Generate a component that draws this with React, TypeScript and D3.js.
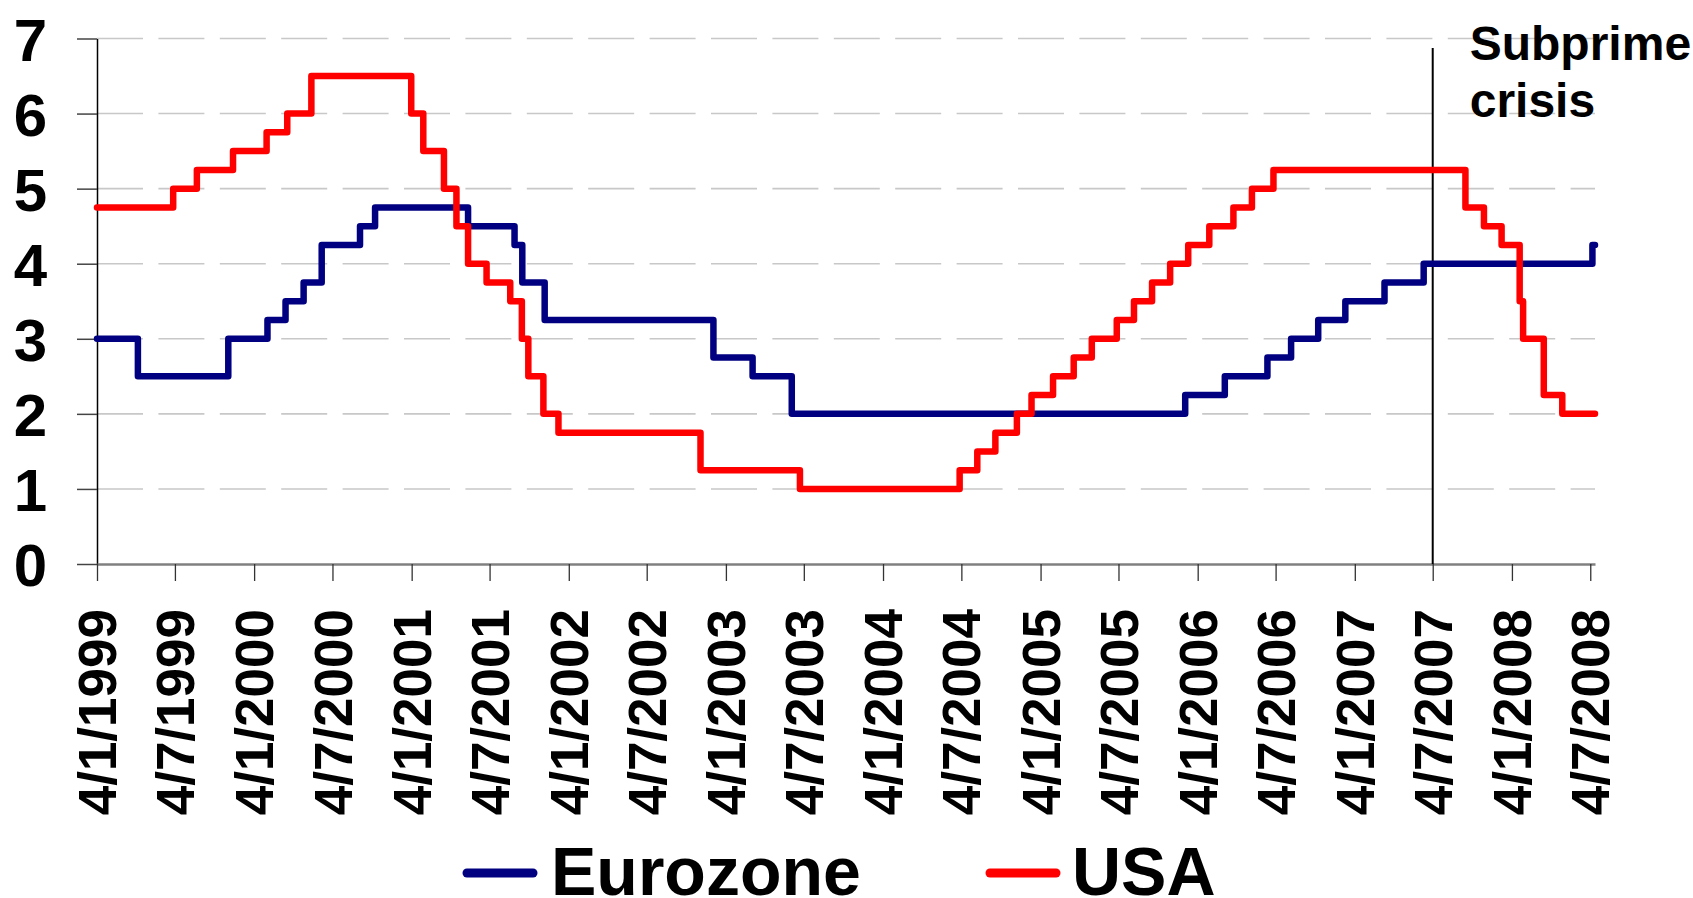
import React, { useEffect, useRef } from "react";
import * as d3 from "d3";

// ECB main refinancing rate (change dates + level)
const euroDates = [
  "1999-01-04", "1999-04-09", "1999-11-05", "2000-02-04", "2000-03-17",
  "2000-04-28", "2000-06-09", "2000-09-06", "2000-10-11", "2001-05-15",
  "2001-08-31", "2001-09-18", "2001-11-09", "2002-12-06", "2003-03-07",
  "2003-06-06", "2005-12-06", "2006-03-08", "2006-06-15", "2006-08-09",
  "2006-10-11", "2006-12-13", "2007-03-14", "2007-06-13", "2008-07-09",
];
const euroRates = [
  3.0, 2.5, 3.0, 3.25, 3.5,
  3.75, 4.25, 4.5, 4.75, 4.5,
  4.25, 3.75, 3.25, 2.75, 2.5,
  2.0, 2.25, 2.5, 2.75, 3.0,
  3.25, 3.5, 3.75, 4.0, 4.25,
];

// Fed funds target rate
const usaDates = [
  "1999-01-04", "1999-06-30", "1999-08-24", "1999-11-16", "2000-02-02",
  "2000-03-21", "2000-05-16", "2001-01-03", "2001-01-31", "2001-03-20",
  "2001-04-18", "2001-05-15", "2001-06-27", "2001-08-21", "2001-09-17",
  "2001-10-02", "2001-11-06", "2001-12-11", "2002-11-06", "2003-06-25",
  "2004-06-30", "2004-08-10", "2004-09-21", "2004-11-10", "2004-12-14",
  "2005-02-02", "2005-03-22", "2005-05-03", "2005-06-30", "2005-08-09",
  "2005-09-20", "2005-11-01", "2005-12-13", "2006-01-31", "2006-03-28",
  "2006-05-10", "2006-06-29", "2007-09-18", "2007-10-31", "2007-12-11",
  "2008-01-22", "2008-01-30", "2008-03-18", "2008-04-30",
];
const usaRates = [
  4.75, 5.0, 5.25, 5.5, 5.75,
  6.0, 6.5, 6.0, 5.5, 5.0,
  4.5, 4.0, 3.75, 3.5, 3.0,
  2.5, 2.0, 1.75, 1.25, 1.0,
  1.25, 1.5, 1.75, 2.0, 2.25,
  2.5, 2.75, 3.0, 3.25, 3.5,
  3.75, 4.0, 4.25, 4.5, 4.75,
  5.0, 5.25, 4.75, 4.5, 4.25,
  3.5, 3.0, 2.25, 2.0,
];

const startDate = "1999-01-04";
const endDate = "2008-07-15";
const crisisDate = "2007-07-04";

const tickDates = [
  "1999-01-04", "1999-07-04", "2000-01-04", "2000-07-04", "2001-01-04",
  "2001-07-04", "2002-01-04", "2002-07-04", "2003-01-04", "2003-07-04",
  "2004-01-04", "2004-07-04", "2005-01-04", "2005-07-04", "2006-01-04",
  "2006-07-04", "2007-01-04", "2007-07-04", "2008-01-04", "2008-07-04",
];
const yTicks = [0, 1, 2, 3, 4, 5, 6, 7];

const seriesNames = ["Eurozone", "USA"];
const seriesColors = ["#000080", "#ff0000"];

const FONT = "'Liberation Sans', Arial, sans-serif";

export default function App() {
  const svgRef = useRef<SVGSVGElement>(null);

  useEffect(() => {
    const svg = d3.select(svgRef.current);
    svg.selectAll("*").remove();

    const parse = d3.timeParse("%Y-%m-%d");
    const fmt = d3.timeFormat("%-d/%-m/%Y");

    const x = d3
      .scaleTime()
      .domain([parse(startDate)!, parse(endDate)!])
      .range([97, 1595]);
    const y = d3.scaleLinear().domain([0, 7]).range([564, 38.5]);

    const [x0, x1] = x.range();

    // grid dashes
    svg
      .append("g")
      .selectAll("line")
      .data(yTicks.filter((t) => t > 0))
      .enter()
      .append("line")
      .attr("x1", x0)
      .attr("x2", x1)
      .attr("y1", (d) => y(d))
      .attr("y2", (d) => y(d))
      .attr("stroke", "#c8c8c8")
      .attr("stroke-width", 1.6)
      .attr("stroke-dasharray", "46 15.4");

    // y axis
    const yAxis = svg
      .append("g")
      .attr("transform", `translate(${x0},0)`)
      .call(
        d3
          .axisLeft(y)
          .tickValues(yTicks)
          .tickFormat(d3.format("d"))
          .tickSize(20)
          .tickSizeOuter(0)
          .tickPadding(30)
      );
    yAxis.select(".domain").attr("stroke", "#000").attr("stroke-width", 1.5);
    yAxis.selectAll(".tick line").attr("stroke", "#444").attr("stroke-width", 1.5);
    yAxis
      .selectAll(".tick text")
      .attr("font-family", FONT)
      .attr("font-weight", "bold")
      .attr("font-size", "60px")
      .attr("fill", "#000")
      .attr("dy", "0.36em");

    // x axis
    const xAxis = svg
      .append("g")
      .attr("transform", `translate(0,${y(0)})`)
      .call(
        d3
          .axisBottom(x)
          .tickValues(tickDates.map((d) => parse(d)!))
          .tickFormat((d) => fmt(d as Date))
          .tickSize(17)
          .tickSizeOuter(0)
      );
    xAxis.select(".domain").attr("stroke", "#808080").attr("stroke-width", 2.5);
    xAxis.selectAll(".tick line").attr("stroke", "#333").attr("stroke-width", 1.3);
    xAxis
      .selectAll(".tick text")
      .attr("font-family", FONT)
      .attr("font-weight", "bold")
      .attr("font-size", "53px")
      .attr("fill", "#000")
      .attr("text-anchor", "end")
      .attr("transform", "rotate(-90)")
      .attr("x", -45)
      .attr("y", 0)
      .attr("dy", "0.35em");

    // subprime marker
    const cx = x(parse(crisisDate)!);
    svg
      .append("line")
      .attr("x1", cx)
      .attr("x2", cx)
      .attr("y1", 48)
      .attr("y2", y(0))
      .attr("stroke", "#000")
      .attr("stroke-width", 2);

    const note = svg
      .append("text")
      .attr("font-family", FONT)
      .attr("font-weight", "bold")
      .attr("font-size", "48px")
      .attr("fill", "#000");
    note.append("tspan").attr("x", cx + 37).attr("y", 60).text("Subprime");
    note.append("tspan").attr("x", cx + 37).attr("y", 117).text("crisis");

    // series
    const build = (dates: string[], rates: number[]) => {
      const pts = dates.map((d, i) => ({ date: parse(d)!, value: rates[i] }));
      pts.push({ date: parse(endDate)!, value: rates[rates.length - 1] });
      return pts;
    };
    const series = [build(euroDates, euroRates), build(usaDates, usaRates)];

    const line = d3
      .line<{ date: Date; value: number }>()
      .x((d) => x(d.date))
      .y((d) => y(d.value))
      .curve(d3.curveStepAfter);

    series.forEach((pts, i) => {
      svg
        .append("path")
        .datum(pts)
        .attr("fill", "none")
        .attr("stroke", seriesColors[i])
        .attr("stroke-width", 6.5)
        .attr("stroke-linejoin", "round")
        .attr("stroke-linecap", "round")
        .attr("d", line);
    });

    // legend
    const legendX = [467, 990];
    const legend = svg
      .append("g")
      .selectAll("g")
      .data(seriesNames)
      .enter()
      .append("g")
      .attr("transform", (_, i) => `translate(${legendX[i]},0)`);
    legend
      .append("line")
      .attr("x1", 0)
      .attr("x2", 66)
      .attr("y1", 873)
      .attr("y2", 873)
      .attr("stroke", (_, i) => seriesColors[i])
      .attr("stroke-width", 9)
      .attr("stroke-linecap", "round");
    legend
      .append("text")
      .attr("x", (_, i) => (i === 0 ? 84 : 82))
      .attr("y", 895)
      .attr("font-family", FONT)
      .attr("font-weight", "bold")
      .attr("font-size", "68px")
      .attr("fill", "#000")
      .text((d) => d);
  }, []);

  return (
    <>
      <style>{`body{margin:0;overflow:hidden;background:#fff}`}</style>
      <svg
        ref={svgRef}
        width={1693}
        height={898}
        style={{ display: "block", position: "absolute", left: 0, top: 0, background: "#fff" }}
      />
    </>
  );
}
